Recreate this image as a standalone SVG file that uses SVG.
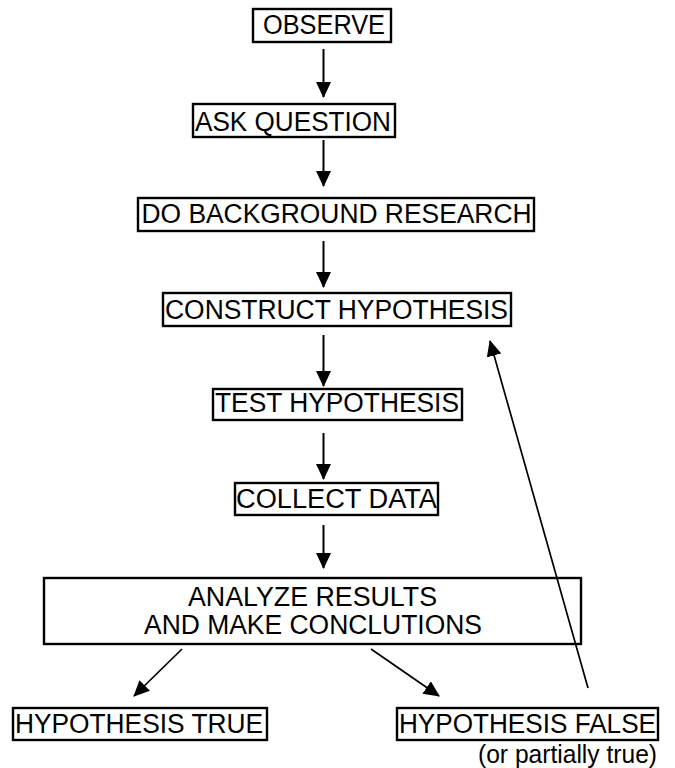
<svg xmlns="http://www.w3.org/2000/svg" width="675" height="768" viewBox="0 0 675 768">
<style>
  .box { fill: none; stroke: #000; stroke-width: 2.4; }
  .t { font-family: "Liberation Sans", Arial, sans-serif; font-size: 27px; fill: #000; }
  .s { font-family: "Liberation Sans", Arial, sans-serif; font-size: 25px; fill: #000; }
  .c { stroke: #000; stroke-width: 2; fill: none; marker-end: url(#ah); }
  .d { stroke: #000; stroke-width: 1.7; fill: none; marker-end: url(#ah); }
</style>
<defs>
  <marker id="ah" markerUnits="userSpaceOnUse" markerWidth="17" markerHeight="16" refX="15" refY="7.5" orient="auto" viewBox="0 0 17 16">
    <path d="M0,0 L16,7.5 L0,15 z" fill="#000"/>
  </marker>
</defs>
<rect width="675" height="768" fill="#fff"/>
<g id="connectors">
  <line class="c" x1="323.5" y1="49" x2="323.5" y2="97"/>
  <line class="c" x1="323.5" y1="140" x2="323.5" y2="186"/>
  <line class="c" x1="323.5" y1="241" x2="323.5" y2="287"/>
  <line class="c" x1="323.5" y1="335" x2="323.5" y2="386"/>
  <line class="c" x1="323.5" y1="433" x2="323.5" y2="479"/>
  <line class="c" x1="323.5" y1="525" x2="323.5" y2="568"/>
  <line class="d" x1="182" y1="649" x2="134" y2="696"/>
  <line class="d" x1="371" y1="649" x2="439" y2="696"/>
  <line class="d" x1="588" y1="688" x2="490" y2="341"/>
</g>
<g id="observe">
  <rect class="box" x="253" y="9" width="138" height="33"/>
  <text class="t" x="263" y="34.3" textLength="122" lengthAdjust="spacingAndGlyphs">OBSERVE</text>
</g>
<g id="ask-question">
  <rect class="box" x="193" y="104" width="202" height="33"/>
  <text class="t" x="195" y="131" textLength="196" lengthAdjust="spacingAndGlyphs">ASK QUESTION</text>
</g>
<g id="background-research">
  <rect class="box" x="138" y="198" width="396" height="33"/>
  <text class="t" x="141.5" y="222.5" textLength="390" lengthAdjust="spacingAndGlyphs">DO BACKGROUND RESEARCH</text>
</g>
<g id="construct-hypothesis">
  <rect class="box" x="163" y="293" width="348" height="33"/>
  <text class="t" x="165" y="319" textLength="343" lengthAdjust="spacingAndGlyphs">CONSTRUCT HYPOTHESIS</text>
</g>
<g id="test-hypothesis">
  <rect class="box" x="213" y="389" width="249" height="31"/>
  <text class="t" x="215" y="411.5" textLength="244" lengthAdjust="spacingAndGlyphs">TEST HYPOTHESIS</text>
</g>
<g id="collect-data">
  <rect class="box" x="235" y="483" width="203" height="32"/>
  <text class="t" x="236" y="508.3" textLength="201" lengthAdjust="spacingAndGlyphs">COLLECT DATA</text>
</g>
<g id="analyze-results">
  <rect class="box" x="44" y="578" width="537" height="66"/>
  <text class="t" x="188" y="606" textLength="249" lengthAdjust="spacingAndGlyphs">ANALYZE RESULTS</text>
  <text class="t" x="144" y="634" textLength="338" lengthAdjust="spacingAndGlyphs">AND MAKE CONCLUTIONS</text>
</g>
<g id="hypothesis-true">
  <rect class="box" x="13" y="708" width="254" height="32"/>
  <text class="t" x="15" y="733.3" textLength="248" lengthAdjust="spacingAndGlyphs">HYPOTHESIS TRUE</text>
</g>
<g id="hypothesis-false">
  <rect class="box" x="397" y="708" width="261" height="32"/>
  <text class="t" x="399" y="733.3" textLength="257" lengthAdjust="spacingAndGlyphs">HYPOTHESIS FALSE</text>
  <text class="s" x="478" y="763" textLength="179" lengthAdjust="spacingAndGlyphs">(or partially true)</text>
</g>
</svg>
